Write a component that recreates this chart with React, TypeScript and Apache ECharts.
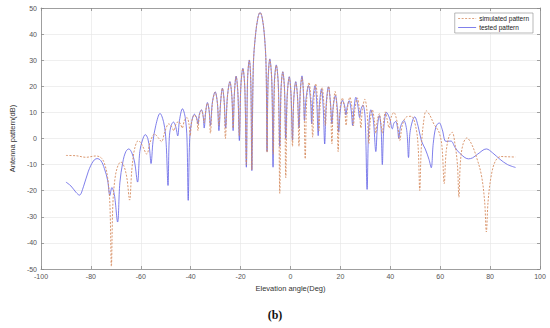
import React, { useEffect, useRef } from "react";
import * as echarts from "echarts";

const xTicks = { min: -100, max: 100, interval: 20 };
const yTicks = { min: -50, max: 50, interval: 10 };
const seriesNames = ["simulated pattern", "tested pattern"];
const xName = "Elevation angle(Deg)";
const yName = "Antenna pattern(dB)";
const caption = "(b)";

const simulatedPattern: number[][] = [
  [-90,-6.5],[-86,-6.6],[-82,-7.2],[-78,-6.7],[-76,-7.3],[-74.6,-9.5],[-73.3,-15],[-72.4,-25],[-71.8,-49],[-71.2,-25],[-70.3,-15],[-69.2,-10.5],[-68,-9],[-66.8,-10.5],[-65.6,-15],[-64.5,-23.6],
  [-63.6,-12],[-62.5,-4],[-61,-0.8],[-59.5,-2.5],[-57.6,-6],
  [-56.3,-1.5],[-54.5,1.7],[-53,0.3],[-51.7,-1.2],
  [-50.4,2.5],[-48.8,5.6],[-47.6,4.5],[-46.8,3],
  [-45.9,5.5],[-44.9,6.5],[-44,5.3],[-43.4,4],
  [-42.5,7],[-41.5,8],[-40.7,5.5],[-40.2,1],
  [-39.6,6.5],[-38.5,9],[-37.6,7.5],[-37.1,3],
  [-36.5,9],[-35.7,10.8],[-35,8.5],[-34.6,6],
  [-34,10.5],[-33.3,13.5],[-32.6,10.5],[-32.1,2],
  [-31.3,13.5],[-30.2,17.8],[-29.3,13.5],[-28.7,5],
  [-28,14],[-27.3,19.2],[-26.6,14],[-26.1,0],
  [-25.3,15.5],[-24.3,21.7],[-23.5,16],[-23,4],
  [-22.5,17],[-21.8,23.8],[-21.1,17.5],[-20.5,1],
  [-19.9,20],[-19.1,26.8],[-18.3,19],[-17.7,-10],
  [-17.2,23],[-16.5,30],[-15.9,21],[-15.5,-12],
  [-14.9,28],[-14,40],[-13,46.5],[-12.2,48.3],[-11.4,46.5],[-10.5,40],[-9.8,28],[-9.4,-5.3],
  [-9,22],[-8.3,30.2],[-7.5,22],[-6.9,-6],
  [-6.4,21],[-5.7,28],[-4.9,20],[-4.3,-21],
  [-3.8,18],[-3.1,25.5],[-2.4,18],[-1.9,-15],
  [-1.3,16],[-0.5,23.5],[0.2,17],[0.8,-3],
  [1.3,15],[2.1,21.5],[2.8,16],[3.4,-3],
  [3.9,17],[4.6,23.5],[5.3,16],[5.9,-7.8],
  [6.5,15],[7.4,21.5],[8.2,15],[8.9,0.5],
  [9.4,15],[10.1,21],[10.8,15],[11.4,3],
  [11.9,13],[12.7,19.5],[13.4,13],[14,5],
  [14.5,14],[15.3,20],[16,13],[16.6,-2],
  [17.1,12],[17.9,18],[18.6,11],[19.1,-5],
  [19.7,10],[20.8,15.5],[21.7,11],[22.3,5],
  [22.9,12],[23.8,15.8],[24.6,12],[25.2,4.8],
  [25.8,11],[26.8,15.5],[27.6,11],[28.2,4],
  [28.8,11],[29.8,15],[30.7,10],[31.4,-2],
  [32,7],[32.8,11],[33.6,7],[34.2,2],
  [34.8,7],[35.6,9.5],[36.2,6],[36.8,2],
  [37.4,7],[38,10.2],[38.8,7],[39.5,4],
  [40.3,8],[41.4,10],[42.8,6],[43.8,-0.8],
  [44.8,5],[46.5,8.3],[48.4,8.5],[50.3,4],[51.2,-4],[51.8,-19.9],
  [52.4,-4],[53.3,6],[54.4,10.6],[55.8,9],[57.5,5.5],[59.5,2.5],[60.7,-3],[61.6,-17.3],
  [62.4,-5],[63.6,1],[64.8,2.4],[65.9,-2],[66.9,-10],[67.5,-22.5],
  [68.1,-9],[69.2,-2],[70.7,0.2],[72.5,-2],[74.5,-7],[76.5,-14],[77.8,-24],[78.5,-35.8],[79.2,-24],[80.5,-14],[82.2,-8.5],[84.4,-6.9],[87,-7],[90.2,-7.1]
];

const testedPattern: number[][] = [
  [-90,-16.7],[-88,-18.2],[-86,-20.6],[-84.6,-21.7],[-83,-18.5],[-81,-12.5],[-79,-8.6],[-77.5,-7.7],[-76,-8.5],[-74.6,-11.5],[-73.3,-16],[-72.4,-21.8],[-71.6,-18.8],[-70.6,-21.5],[-69.3,-32],
  [-68.4,-17],[-67.2,-9],[-66,-5],[-64.8,-4],[-63.6,-5.5],[-62.5,-9],[-61.3,-16.7],
  [-60.4,-5],[-59.3,-0.5],[-58.2,1.5],[-57.2,0],[-56.5,-4],[-55.9,-9.6],
  [-55.1,-1],[-54,5],[-52.3,9.6],[-50.8,6],[-49.9,-1],[-49.1,-18],
  [-48.6,0],[-47.9,4.8],[-46.9,6.3],[-46,4.5],[-45.2,1],
  [-44.5,7],[-43.3,11.4],[-42.2,8],[-41.5,0],[-41,-23.7],
  [-40.4,0],[-39.6,6.5],[-38.5,9.3],[-37.6,7.8],[-37.1,5.5],
  [-36.5,9.5],[-35.7,11],[-35,8.5],[-34.6,4],
  [-34,10],[-33.3,13.8],[-32.6,10.5],[-32.1,5],
  [-31.3,14],[-30.2,17.9],[-29.3,13.5],[-28.7,3],
  [-28,14],[-27.3,19.3],[-26.6,14.5],[-26,4],
  [-25.3,16],[-24.3,21.8],[-23.5,16],[-23,3],
  [-22.5,17],[-21.8,23.9],[-21.1,17.5],[-20.5,-0.8],
  [-19.9,20],[-19.1,26.9],[-18.3,19],[-17.7,-11],
  [-17.2,23],[-16.5,30.1],[-15.9,21],[-15.5,-12.3],
  [-14.9,28],[-14,40],[-13,46.5],[-12.2,48.3],[-11.4,46.5],[-10.5,40],[-9.8,28],[-9.4,-5],
  [-9,22],[-8.3,30.5],[-7.5,22],[-7,-11],
  [-6.5,21],[-5.7,28.2],[-4.9,21],[-4.3,-3],
  [-3.8,19],[-3.1,25.6],[-2.4,19],[-1.9,0],
  [-1.3,17],[-0.5,23.7],[0.2,17],[0.8,-0.6],
  [1.3,15],[2.1,21.8],[2.8,16],[3.4,4],
  [3.9,18],[4.6,24],[5.2,17],[5.6,6.9],
  [6.2,15],[7.2,20.3],[8,15],[8.5,5.6],
  [9,15],[9.8,20.2],[10.5,14],[11.1,1.1],
  [11.6,13],[12.4,19],[13.1,12],[13.7,-2.1],
  [14.3,13],[15.2,19.8],[16,14],[16.6,5.6],
  [17.1,12],[18,16.5],[18.8,11],[19.3,2.4],
  [19.9,10],[20.8,14.6],[21.7,12.5],[22.2,9],
  [22.7,12],[23.5,14.5],[24.3,11],[24.9,5],
  [25.4,11],[26.2,15.8],[27,12.5],[27.7,8],
  [28.2,11],[29,12.8],[29.9,8],[30.7,-19.5],
  [31.3,3],[32.2,11],[33.2,7],[34.2,-5],
  [34.8,4],[35.6,8.8],[36.3,4],[36.8,-10],
  [37.4,4],[38.5,10],[39.8,7.5],[40.8,3.7],
  [41.5,6],[42.2,6.5],[42.9,4],[43.4,0],
  [44.1,4.5],[45.4,6.9],[46.6,3],[47.3,-7.3],
  [48,3],[49.8,8.3],[51.2,4.5],[52.5,-1],[54,-4],[55.5,-8],[56.4,-11.2],
  [57.2,-2],[58.3,4.5],[59.6,6],[60.8,3.5],[62.3,-1.1],[64.3,-1.0],[66,-3.5],[68,-5.8],[71.3,-7.8],[73,-7.4],[75,-6],[78.5,-4],[81,-5.5],[84,-8],[87,-10],[90.2,-11.1]
];

const FONT = "Liberation Sans, Arial, sans-serif";
const SIM_COLOR = "#d68c60";
const TEST_COLOR = "#6060e6";

export default function App() {
  const ref = useRef<HTMLDivElement>(null);
  useEffect(() => {
    if (!ref.current) return;
    const chart = echarts.init(ref.current, null, { renderer: "svg" });
    const axisLine = { show: true, onZero: false, lineStyle: { color: "#8a8a8a", width: 0.8 } };
    const axisTick = { show: true, inside: true, length: 3, lineStyle: { color: "#8a8a8a", width: 0.8 } };
    const splitLine = { show: true, lineStyle: { color: "#e4e4e4", width: 0.6 } };
    chart.setOption({
      animation: false,
      backgroundColor: "#ffffff",
      textStyle: { fontFamily: FONT },
      grid: { left: 28, right: 10, top: 8, bottom: 59, containLabel: false },
      legend: {
        right: 17,
        top: 13,
        orient: "vertical",
        itemWidth: 18,
        itemHeight: 6,
        itemGap: 2,
        padding: [2, 4, 2, 3],
        backgroundColor: "#ffffff",
        borderColor: "#8a8a8a",
        borderWidth: 0.6,
        borderRadius: 0,
        itemStyle: { opacity: 0 },
        lineStyle: { width: 0.8 },
        textStyle: { fontSize: 6.5, color: "#222", fontFamily: FONT, padding: [0, 0, 0, -2] },
        data: seriesNames,
      },
      xAxis: [
        {
          type: "value",
          min: xTicks.min,
          max: xTicks.max,
          interval: xTicks.interval,
          name: xName,
          nameLocation: "middle",
          nameGap: 14,
          nameTextStyle: { fontSize: 7.5, color: "#333", fontFamily: FONT },
          axisLine,
          axisTick,
          splitLine,
          axisLabel: { fontSize: 7, color: "#555", margin: 4, fontFamily: FONT },
        },
        {
          type: "value",
          position: "top",
          min: xTicks.min,
          max: xTicks.max,
          interval: xTicks.interval,
          axisLine,
          axisTick,
          splitLine: { show: false },
          axisLabel: { show: false },
        },
      ],
      yAxis: [
        {
          type: "value",
          min: yTicks.min,
          max: yTicks.max,
          interval: yTicks.interval,
          name: yName,
          nameLocation: "middle",
          nameGap: 17,
          nameTextStyle: { fontSize: 7.5, color: "#333", fontFamily: FONT },
          axisLine,
          axisTick,
          splitLine,
          axisLabel: { fontSize: 7, color: "#555", margin: 4, fontFamily: FONT },
        },
        {
          type: "value",
          position: "right",
          min: yTicks.min,
          max: yTicks.max,
          interval: yTicks.interval,
          axisLine,
          axisTick,
          splitLine: { show: false },
          axisLabel: { show: false },
        },
      ],
      series: [
        {
          name: seriesNames[0],
          type: "line",
          data: simulatedPattern,
          showSymbol: false,
          symbol: "none",
          smooth: 0.35,
          lineStyle: { color: SIM_COLOR, width: 0.9, type: [2, 1.5] },
          itemStyle: { color: SIM_COLOR },
          z: 3,
        },
        {
          name: seriesNames[1],
          type: "line",
          data: testedPattern,
          showSymbol: false,
          symbol: "none",
          smooth: 0.35,
          lineStyle: { color: TEST_COLOR, width: 0.8 },
          itemStyle: { color: TEST_COLOR },
          z: 2,
        },
      ],
      graphic: [
        {
          type: "text",
          left: "center",
          top: 309,
          style: {
            text: caption,
            font: "bold 12px 'Liberation Serif', 'DejaVu Serif', serif",
            fill: "#111",
          },
        },
      ],
    });
    return () => chart.dispose();
  }, []);
  return (
    <div
      ref={ref}
      style={{ position: "fixed", left: 0, top: 0, width: 550, height: 328 }}
    />
  );
}
